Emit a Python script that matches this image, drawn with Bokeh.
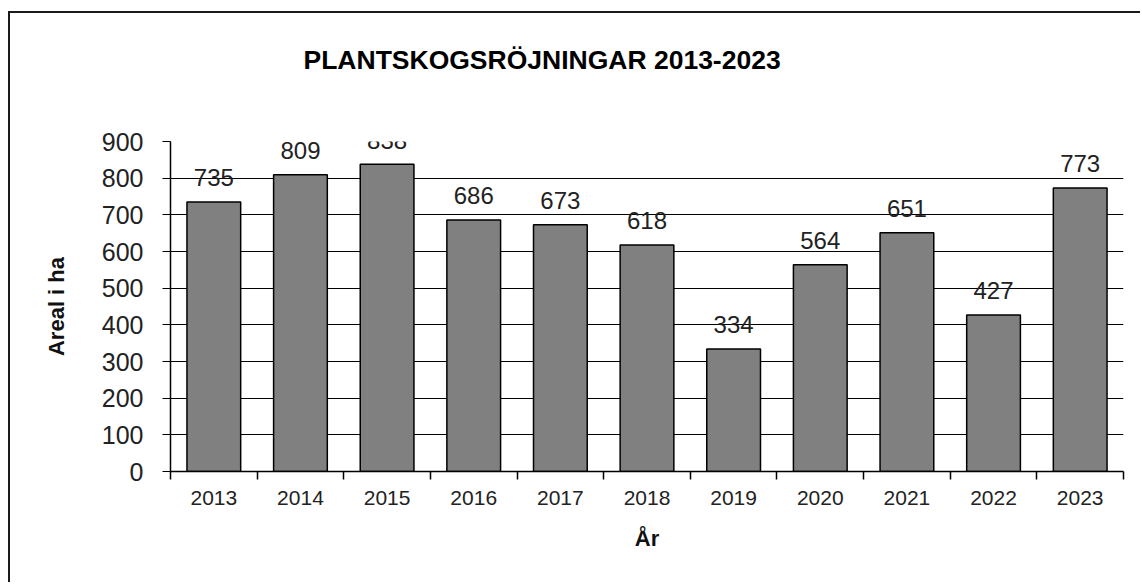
from bokeh.plotting import figure
from bokeh.models import FixedTicker, LinearAxis, ColumnDataSource
from bokeh.embed import file_html
from bokeh.resources import INLINE
from bokeh.core.properties import value

years = ["2013", "2014", "2015", "2016", "2017", "2018", "2019", "2020", "2021", "2022", "2023"]
areas = [735, 809, 838, 686, 673, 618, 334, 564, 651, 427, 773]
y_ticks = [0, 100, 200, 300, 400, 500, 600, 700, 800, 900]

title_text = "PLANTSKOGSRÖJNINGAR 2013-2023"
x_label = "År"
y_label = "Areal i ha"

FONT = "Liberation Sans"

xs = list(range(len(years)))
src = ColumnDataSource(dict(x=xs, top=areas, lab=[str(a) for a in areas],
                            ly=[a + 66 for a in areas]))

p = figure(width=1132, height=571, output_backend="svg", toolbar_location=None,
           x_range=(-0.5, len(years) - 0.5), y_range=(0, 900),
           min_border_left=160, min_border_right=19, min_border_top=128,
           min_border_bottom=113,
           styles={"margin-left": "8px", "margin-top": "11px",
                   "border-left": "2px solid #1a1a1a", "border-top": "2px solid #1a1a1a"})
p.outline_line_color = None
p.background_fill_color = "white"
p.border_fill_color = "white"

p.vbar(x="x", top="top", width=0.62, bottom=0, source=src,
       fill_color="#808080", line_color="black", line_width=1.5)

p.text(x="x", y="ly", text="lab", source=src, text_align="center",
       text_baseline="alphabetic", text_font=value(FONT), text_font_size="24px",
       text_color="#222222")

# grid
p.xgrid.grid_line_color = None
p.ygrid.grid_line_color = "black"
p.ygrid.grid_line_width = 1
p.ygrid.ticker = FixedTicker(ticks=y_ticks)

# y axis
p.yaxis.ticker = FixedTicker(ticks=y_ticks)
p.yaxis.axis_line_color = "black"
p.yaxis.axis_line_width = 1.5
p.yaxis.major_tick_line_color = "black"
p.yaxis.major_tick_out = 8
p.yaxis.major_tick_in = 0
p.yaxis.minor_tick_line_color = None
p.yaxis.major_label_text_font = FONT
p.yaxis.major_label_text_font_size = "25px"
p.yaxis.major_label_text_color = "#222222"
p.yaxis.major_label_standoff = 19
p.yaxis.axis_label = y_label
p.yaxis.axis_label_text_font = FONT
p.yaxis.axis_label_text_font_size = "22px"
p.yaxis.axis_label_text_font_style = "bold"
p.yaxis.axis_label_text_color = "#111111"
p.yaxis.axis_label_standoff = 30

# x axis: labels at centers, ticks at boundaries
bounds = [i - 0.5 for i in range(len(years) + 1)]
p.xaxis.ticker = FixedTicker(ticks=xs, minor_ticks=bounds)
p.xaxis.major_label_overrides = {i: y for i, y in enumerate(years)}
p.xaxis.axis_line_color = "black"
p.xaxis.axis_line_width = 1.5
p.xaxis.major_tick_line_color = None
p.xaxis.major_tick_out = 0
p.xaxis.major_tick_in = 0
p.xaxis.minor_tick_line_color = "black"
p.xaxis.minor_tick_line_width = 1.5
p.xaxis.minor_tick_out = 8
p.xaxis.minor_tick_in = 0
p.xaxis.major_label_text_font = FONT
p.xaxis.major_label_text_font_size = "21px"
p.xaxis.major_label_text_color = "#222222"
p.xaxis.major_label_standoff = 11
p.xaxis.axis_label = x_label
p.xaxis.axis_label_text_font = FONT
p.xaxis.axis_label_text_font_size = "22px"
p.xaxis.axis_label_text_font_style = "bold"
p.xaxis.axis_label_text_color = "#111111"
p.xaxis.axis_label_standoff = 18

# invisible axis above the frame, used only as vertical spacing under the title
spacer = LinearAxis(ticker=FixedTicker(ticks=[]), axis_line_color=None,
                    major_tick_line_color=None, minor_tick_line_color=None,
                    major_tick_out=0, major_tick_in=0, minor_tick_out=0,
                    major_label_standoff=0, major_label_text_alpha=0,
                    axis_label=".", axis_label_text_alpha=0,
                    axis_label_text_font_size="12px", axis_label_standoff=50)
p.add_layout(spacer, "above")

p.title.text = title_text
p.title.align = "left"
p.title.offset = 133
p.title.standoff = 10
p.title.vertical_align = "bottom"
p.title.text_font = FONT
p.title.text_font_size = "26.5px"
p.title.text_font_style = "bold"
p.title.text_color = "black"

open("out.html", "w").write(file_html(p, INLINE))
